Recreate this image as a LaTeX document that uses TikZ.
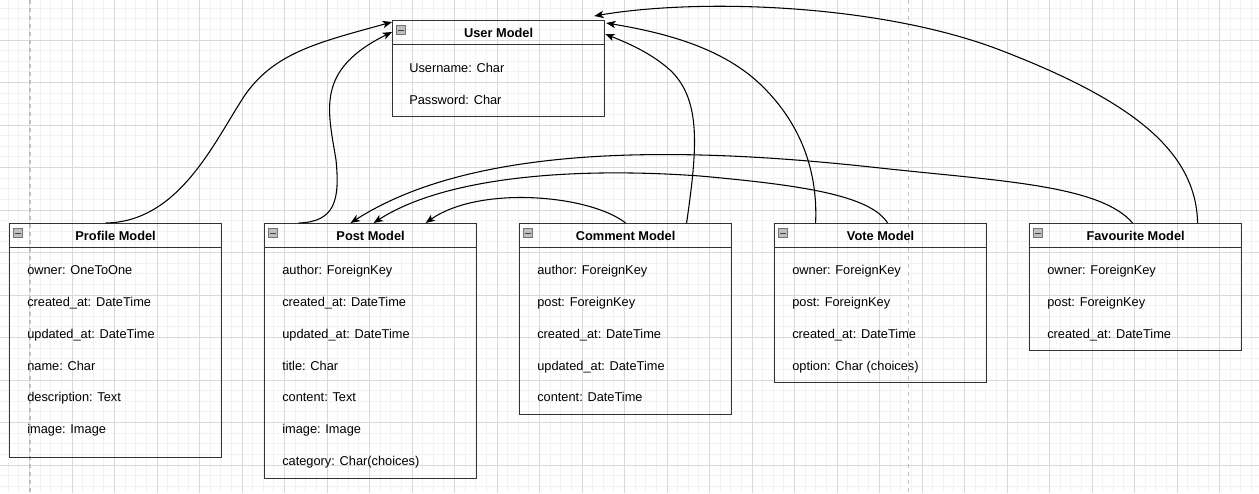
\documentclass[tikz,border=0pt]{standalone}
\usepackage{fontspec}
\setmainfont{Liberation Sans}
\usetikzlibrary{arrows.meta}
\usetikzlibrary{calc}

\tikzset{
	model/.style={draw=black!80, line width=0.9pt, inner sep=0pt, anchor=north west, minimum width=159pt},
	divider/.style={draw=black!80, line width=0.9pt},
	modeltitle/.style={font=\fontsize{9.6}{11.5}\selectfont\bfseries, inner sep=0pt, text height=6.9pt, text depth=0pt},
	field/.style={font=\fontsize{9.6}{11.5}\selectfont, anchor=west, inner sep=0pt, text height=6.9pt, text depth=0pt},
	togglebox/.style={draw=black!55, fill=black!25, line width=0.5pt, minimum size=6.5pt, inner sep=0pt,
		path picture={\draw[black!75, line width=0.7pt] ([xshift=1.3pt]path picture bounding box.west) -- ([xshift=-1.3pt]path picture bounding box.east);}},
	relation/.style={line width=0.8pt, -{Stealth[length=7pt,width=5.5pt,inset=1.8pt]}},
	minorgrid/.style={draw=black!5, line width=0.6pt},
	majorgrid/.style={draw=black!15, line width=0.6pt},
	pageline/.style={draw=black!25, line width=0.9pt, dash pattern=on 3pt off 3pt}
}

% box with header line, title and toggle icon: name, x, y, height (px), title
\newcommand{\entity}[5]{%
	\node[model, minimum height=#4*0.75pt] (#1) at (#2,#3) {};
	\draw[divider] ($(#1.north west)+(0,24.5)$) -- ($(#1.north east)+(0,24.5)$);
	\node[modeltitle] (#1-title) at ($(#1.north)+(0,12.5)$) {#5};
	\node[togglebox] (#1-toggle) at ($(#1.north west)+(9,10)$) {};
}

\begin{document}
\begin{tikzpicture}[x=0.75pt, y=-0.75pt]
	\useasboundingbox (0,0) rectangle (1259,493);

	% grid
	\foreach \i in {0,...,117}
		\draw[minorgrid] (8.25+10.625*\i,0) -- (8.25+10.625*\i,493);
	\foreach \j in {0,...,45}
		\draw[minorgrid] (0,8.125+10.625*\j) -- (1259,8.125+10.625*\j);
	\foreach \i in {0,...,28}
		\draw[majorgrid] (29.5+42.5*\i,0) -- (29.5+42.5*\i,493);
	\foreach \j in {1,...,11}
		\draw[majorgrid] (0,-2.5+42.5*\j) -- (1259,-2.5+42.5*\j);
	\draw[pageline] (30,0) -- (30,493);
	\draw[pageline] (908.5,0) -- (908.5,493);

	% models
	\entity{user}{392}{20}{96}{User Model}
	\entity{profile}{9}{223}{234}{Profile Model}
	\entity{post}{264}{223}{255}{Post Model}
	\entity{comment}{519}{223}{191}{Comment Model}
	\entity{vote}{774}{223}{159}{Vote Model}
	\entity{favourite}{1029}{223}{127}{Favourite Model}

	% fields
	\foreach \f [count=\k from 0] in {Username: Char, Password: Char}
		\node[field] (user-f\k) at ($(user.north west)+(17,48+31.8*\k)$) {\f};
	\foreach \f [count=\k from 0] in {owner: OneToOne, created\_at: DateTime, updated\_at: DateTime, name: Char, description: Text, image: Image}
		\node[field] (profile-f\k) at ($(profile.north west)+(18,47+31.8*\k)$) {\f};
	\foreach \f [count=\k from 0] in {author: ForeignKey, created\_at: DateTime, updated\_at: DateTime, title: Char, content: Text, image: Image, category: Char(choices)}
		\node[field] (post-f\k) at ($(post.north west)+(18,47+31.8*\k)$) {\f};
	\foreach \f [count=\k from 0] in {author: ForeignKey, post: ForeignKey, created\_at: DateTime, updated\_at: DateTime, content: DateTime}
		\node[field] (comment-f\k) at ($(comment.north west)+(18,47+31.8*\k)$) {\f};
	\foreach \f [count=\k from 0] in {owner: ForeignKey, post: ForeignKey, created\_at: DateTime, option: Char (choices)}
		\node[field] (vote-f\k) at ($(vote.north west)+(18,47+31.8*\k)$) {\f};
	\foreach \f [count=\k from 0] in {owner: ForeignKey, post: ForeignKey, created\_at: DateTime}
		\node[field] (favourite-f\k) at ($(favourite.north west)+(18,47+31.8*\k)$) {\f};

	% relations to user
	\draw[relation] ($(profile.north)+(-10,0)$) .. controls (180,222) and (215,140) .. (245,95)
		.. controls (275,52) and (320,42) .. ($(user.north west)+(0,2)$);
	\draw[relation] ($(post.north)+(-72,0)$) .. controls (335,222) and (340,200) .. (336,160)
		.. controls (328,110) and (315,70) .. ($(user.north west)+(0,12)$);
	\draw[relation] ($(comment.north)+(61,0)$) .. controls (697,150) and (702,100) .. (670,70)
		.. controls (650,52) and (625,42) .. ($(user.north east)+(0,14)$);
	\draw[relation] ($(vote.north)+(-65,0)$) .. controls (818,170) and (800,122) .. (760,84)
		.. controls (720,46) and (660,32) .. ($(user.north east)+(1,3)$);
	\draw[relation] ($(favourite.north)+(62,0)$) .. controls (1196,150) and (1130,100) .. (1000,50)
		.. controls (880,4) and (700,-2) .. ($(user.north east)+(-11,-4)$);

	% relations to post
	\draw[relation] (comment.north) .. controls (590,195) and (480,185) .. ($(post.north)+(55,0)$);
	\draw[relation] ($(vote.north)+(7,0)$) .. controls (870,195) and (800,185) .. (700,176)
		.. controls (560,166) and (440,180) .. ($(post.north)+(3,0)$);
	\draw[relation] ($(favourite.north)+(-3,0)$) .. controls (1100,185) and (1000,181) .. (880,168)
		.. controls (700,148) and (480,140) .. ($(post.north)+(-20,0)$);
\end{tikzpicture}
\end{document}
